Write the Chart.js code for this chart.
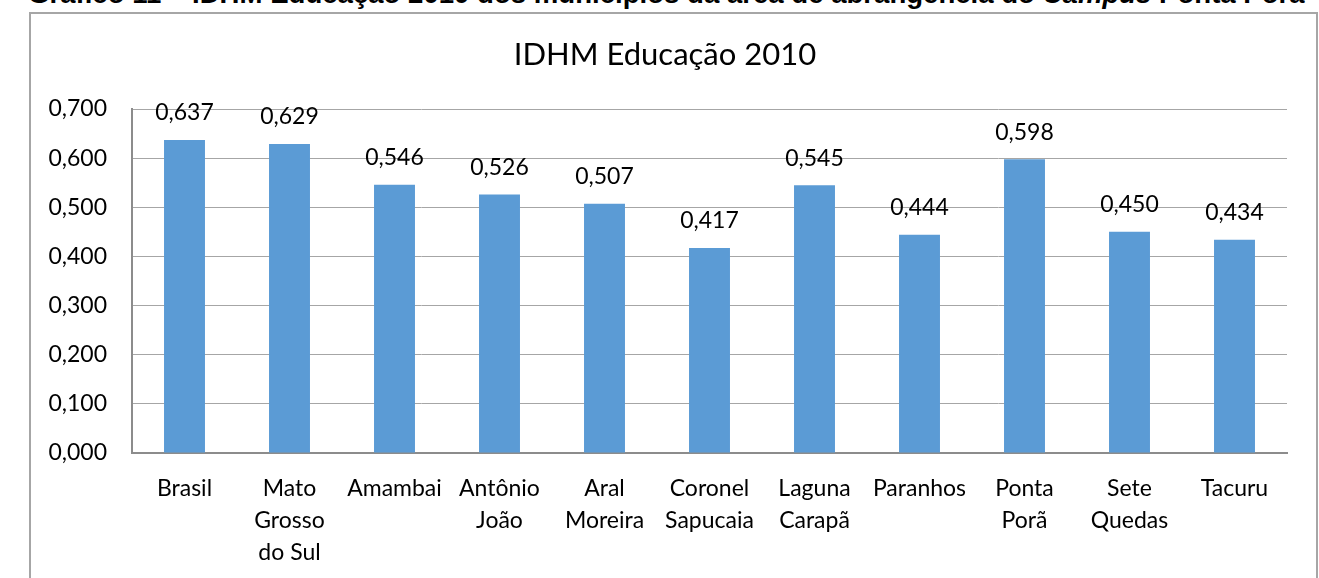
<!DOCTYPE html>
<html lang="pt">
<head>
  <meta charset="UTF-8">
  <title>IDHM Educação 2010</title>
  <script src="https://cdn.jsdelivr.net/npm/chart.js"></script>
  <style>
    body {
      margin: 0;
      padding: 0;
      background: #ffffff;
      overflow: hidden;
      width: 1319px;
      height: 578px;
      position: relative;
      font-family: Lato, sans-serif;
    }
    /* caption of the figure, cut off at the top of the picture */
    #caption {
      position: absolute;
      left: 28px;
      top: -20px;
      font-family: "Liberation Sans", Arial, sans-serif;
      font-weight: bold;
      font-size: 24px;
      line-height: 1;
      white-space: nowrap;
      color: #000;
    }
    /* frame round the chart */
    #frame {
      position: absolute;
      left: 29px;
      top: 12px;
      width: 1285px;
      height: 600px;
      border: 2px solid #a6a6a6;
    }
    #wrap {
      position: absolute;
      left: 0;
      top: 0;
      width: 1319px;
      height: 578px;
    }
  </style>
</head>
<body>
  <div id="caption">Gráfico 11 – IDHM Educação 2010 dos municípios da área de abrangência do <i>Campus</i> Ponta Porã</div>
  <div id="frame"></div>
  <div id="wrap"><canvas id="chart"></canvas></div>

  <script>
    // Data
    const categories = [
      'Brasil',
      ['Mato', 'Grosso', 'do Sul'],
      'Amambai',
      ['Antônio', 'João'],
      ['Aral', 'Moreira'],
      ['Coronel', 'Sapucaia'],
      ['Laguna', 'Carapã'],
      'Paranhos',
      ['Ponta', 'Porã'],
      ['Sete', 'Quedas'],
      'Tacuru'
    ];
    const idhmEducacao = [0.637, 0.629, 0.546, 0.526, 0.507, 0.417, 0.545, 0.444, 0.598, 0.450, 0.434];
    const yTicks = [0, 0.1, 0.2, 0.3, 0.4, 0.5, 0.6, 0.7];
    const chartTitle = 'IDHM Educação 2010';

    // stretch the caption to the width it has in the picture
    const cap = document.getElementById('caption');
    const want = 1277;
    cap.style.fontSize = (24 * want / cap.getBoundingClientRect().width) + 'px';

    const fmt = v => v.toFixed(3).replace('.', ',');

    // title (a bit right of the canvas centre, as in the picture) and value labels
    const extraText = {
      id: 'extraText',
      afterDatasetsDraw(chart) {
        const ctx = chart.ctx;
        const meta = chart.getDatasetMeta(0);
        ctx.save();
        ctx.fillStyle = '#000';
        ctx.textAlign = 'center';
        ctx.textBaseline = 'middle';
        ctx.font = '31px Lato';
        ctx.fillText(chartTitle, 665, 55);
        ctx.font = '23px Lato';
        meta.data.forEach((bar, i) => {
          ctx.fillText(fmt(idhmEducacao[i]), bar.x, bar.y - 27);
        });
        ctx.restore();
      }
    };

    new Chart(document.getElementById('chart').getContext('2d'), {
      type: 'bar',
      data: {
        labels: categories,
        datasets: [{
          label: chartTitle,
          data: idhmEducacao,
          backgroundColor: '#5b9bd5',
          categoryPercentage: 1,
          barPercentage: 0.39
        }]
      },
      options: {
        responsive: true,
        maintainAspectRatio: false,
        animation: false,
        layout: { padding: { left: 0, right: 32, top: 109, bottom: 0 } },
        plugins: {
          legend: { display: false },
          tooltip: { enabled: false },
          title: { display: false }
        },
        scales: {
          x: {
            grid: { display: false, drawTicks: false },
            border: { color: '#8c8c8c', width: 2 },
            ticks: {
              color: '#000',
              font: { family: 'Lato', size: 23, lineHeight: 1.4 },
              padding: 19,
              maxRotation: 0,
              autoSkip: false
            },
            afterFit: s => { s.height = 125; }
          },
          y: {
            min: 0,
            max: 0.7,
            afterBuildTicks: s => { s.ticks = yTicks.map(v => ({ value: v })); },
            grid: { color: '#a6a6a6', lineWidth: 1, drawTicks: false },
            border: { color: '#8c8c8c', width: 2 },
            ticks: {
              color: '#000',
              font: { family: 'Lato', size: 23 },
              padding: 25,
              callback: v => fmt(v)
            },
            afterFit: s => { s.width = 132; }
          }
        }
      },
      plugins: [extraText]
    });
  </script>
</body>
</html>
